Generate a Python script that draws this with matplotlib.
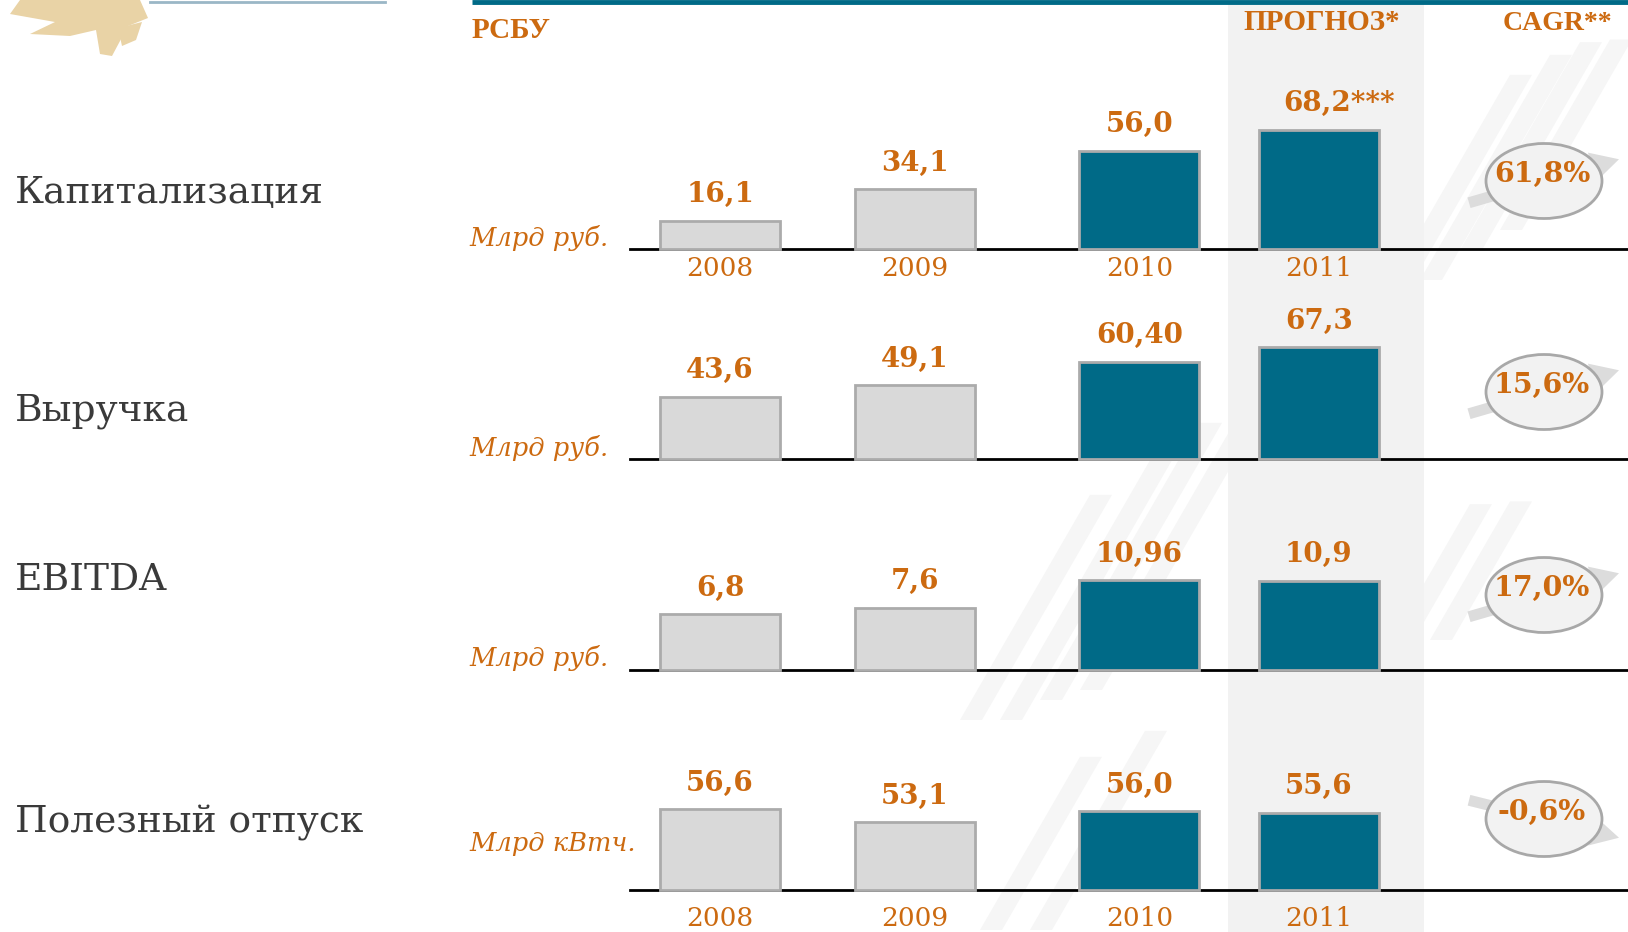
import matplotlib.pyplot as plt
from matplotlib.patches import Rectangle, Ellipse, Polygon, FancyArrow

# Показатели по годам (РСБУ), 2011 - прогноз
years = ['2008', '2009', '2010', '2011']
metrics = ['Капитализация', 'Выручка', 'EBITDA', 'Полезный отпуск']
units = ['Млрд руб.', 'Млрд руб.', 'Млрд руб.', 'Млрд кВтч.']
values = [
    [16.1, 34.1, 56.0, 68.2],
    [43.6, 49.1, 60.40, 67.3],
    [6.8, 7.6, 10.96, 10.9],
    [56.6, 53.1, 56.0, 55.6],
]
value_labels = [
    ['16,1', '34,1', '56,0', '68,2***'],
    ['43,6', '49,1', '60,40', '67,3'],
    ['6,8', '7,6', '10,96', '10,9'],
    ['56,6', '53,1', '56,0', '55,6'],
]
cagr = [61.8, 15.6, 17.0, -0.6]
cagr_labels = ['61,8%', '15,6%', '17,0%', '-0,6%']

ORANGE = '#cc6a10'
TEAL = '#006a87'
GREY = '#d9d9d9'
bar_colors = [GREY, GREY, TEAL, TEAL]

W, H = 1628, 932
fig = plt.figure(figsize=(W / 100, H / 100), dpi=100)

# фон в пикселях
bg = fig.add_axes([0, 0, 1, 1])
bg.set_xlim(0, W)
bg.set_ylim(H, 0)
bg.axis('off')


def stripe(x, y, length, width, color='#f6f6f6'):
    # наклонная полоса водяного знака
    dx, dy = 0.5 * length, -0.866 * length
    pts = [(x, y), (x + width, y), (x + width + dx, y + dy), (x + dx, y + dy)]
    bg.add_patch(Polygon(pts, closed=True, color=color, lw=0, zorder=0.2))


for sx, sy, ln in [(960, 720, 260), (1000, 720, 300), (1040, 700, 320), (1080, 690, 330),
                   (980, 930, 200), (1030, 930, 230), (1380, 300, 260), (1420, 280, 260),
                   (1460, 250, 240), (1500, 230, 220), (1380, 660, 180), (1430, 640, 160)]:
    stripe(sx, sy, ln, 22)

# прогнозная колонка
bg.add_patch(Rectangle((1228, 4), 196, H, color='#f2f2f2', lw=0, zorder=0.3))
bg.plot([472, W], [2, 2], color=TEAL, lw=3.5, solid_capstyle='butt')

# логотип (фрагмент)
logo = [
    [(20, 0), (140, 0), (148, 18), (128, 26), (112, 56), (100, 54), (96, 30), (70, 36),
     (30, 34), (55, 22), (10, 14)],
    [(118, 28), (142, 22), (136, 40), (122, 46)],
]
for p in logo:
    bg.add_patch(Polygon(p, closed=True, color='#e9d3a6', lw=0, zorder=0.5))
bg.plot([150, 385], [1.5, 1.5], color='#9ab7c6', lw=2)

serif = 'DejaVu Serif'
head = 'Liberation Serif'

bg.text(472, 31, 'РСБУ', color=ORANGE, family=head, weight='bold', fontsize=21, va='center')
bg.text(1322, 23, 'ПРОГНОЗ*', color=ORANGE, family=head, weight='bold', fontsize=21,
        ha='center', va='center')
bg.text(1557, 23, 'CAGR**', color=ORANGE, family=head, weight='bold', fontsize=20,
        ha='center', va='center')

baselines = [249, 459, 670, 890]
title_y = [193, 411, 580, 823]
unit_y = [238, 448, 658, 843]
cagr_y = [181, 392, 595, 819]
row_lo = [0, 14, 0, 35]
row_hi = [85.7, 85.4, 18.3, 75.1]
year_offset = {0: -19, 3: -28}
xpos = [0, 1, 2.15, 3.07]
px_unit = 195.0
x_left, x_right = 630, W
row_h = 150

for i, metric in enumerate(metrics):
    bg.text(15, title_y[i], metric, color='#3a3a3a', family=serif, fontsize=27, va='center')
    bg.text(469, unit_y[i], units[i], color=ORANGE, family=serif, style='italic',
            fontsize=18.5, va='center')

    base = baselines[i]
    ax = fig.add_axes([x_left / W, (H - base) / H, (x_right - x_left) / W, row_h / H])
    ax.patch.set_alpha(0)
    ax.set_xlim((x_left - 720) / px_unit, (x_right - 720) / px_unit)
    ax.set_ylim(row_lo[i], row_hi[i])
    ax.axis('off')
    ax.axhline(row_lo[i], color='black', lw=2, zorder=1, clip_on=False)
    heights = [v - row_lo[i] for v in values[i]]
    bars = ax.bar(xpos, heights, bottom=row_lo[i], width=0.615, color=bar_colors,
                  edgecolor='#ababab', linewidth=2, zorder=2, clip_on=False)
    for b, lab in zip(bars, value_labels[i]):
        # сноска (***) не учитывается при центрировании числа
        dx = 15 if lab.endswith('***') else 0
        ax.annotate(lab, (b.get_x() + b.get_width() / 2, b.get_y() + b.get_height()),
                    xytext=(dx, 9), textcoords='offset points', ha='center', va='bottom',
                    color=ORANGE, family=serif, weight='bold', fontsize=20,
                    annotation_clip=False)
    if i in year_offset:
        for x, yr in zip(xpos, years):
            ax.annotate(yr, (x, row_lo[i]), xytext=(0, year_offset[i] * 0.72),
                        textcoords='offset points', ha='center', va='center',
                        color=ORANGE, family=serif, fontsize=19, annotation_clip=False)

    # CAGR: стрелка и овал
    cx, cy = 1544, cagr_y[i]
    slope = -0.29 if cagr[i] >= 0 else 0.25
    x0 = 1469
    bg.add_patch(FancyArrow(x0, cy + slope * (x0 - cx), 150, slope * 150, width=11,
                            head_width=30, head_length=28, color='#dcdcdc', lw=0,
                            length_includes_head=True, zorder=1))
    bg.add_patch(Ellipse((cx, cy), 116, 75, facecolor='#f2f2f2', edgecolor='#a8a8a8',
                         lw=2, zorder=2))
    bg.text(cx - 2, cy - 7, cagr_labels[i], color=ORANGE, family=serif, weight='bold',
            fontsize=20.5, ha='center', va='center', zorder=3)

fig.savefig('out.png', dpi=100)
